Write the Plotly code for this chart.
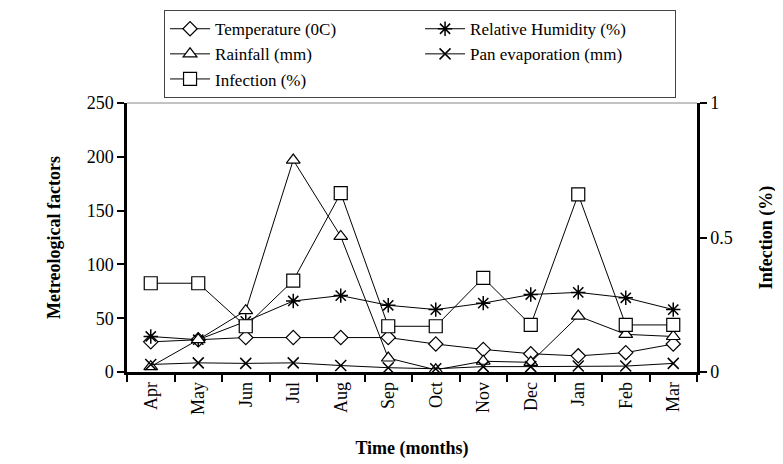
import plotly.graph_objects as go

months = ["Apr", "May", "Jun", "Jul", "Aug", "Sep", "Oct", "Nov", "Dec", "Jan", "Feb", "Mar"]
temperature = [28, 30, 32, 32, 32, 32, 26, 21, 17, 15, 18, 26]
rainfall = [5, 30, 57, 197, 126, 13, 2, 10, 9, 52, 35, 33]
humidity = [33, 30, 47, 66, 71, 62, 58, 64, 72, 74, 69, 58]
pan_evap = [7, 8.5, 8, 8.5, 6, 4, 3, 5, 5, 5.5, 5.5, 8]
infection = [0.33, 0.33, 0.17, 0.34, 0.665, 0.17, 0.17, 0.35, 0.175, 0.66, 0.175, 0.175]

FONT = "Liberation Serif, Times New Roman, Times, serif"
line = dict(color="black", width=1)

def mk(size, width=1.2):
    return dict(color="white", size=size, line=dict(color="black", width=width))

fig = go.Figure()
fig.add_trace(go.Scatter(x=months, y=temperature, name="Temperature (0C)", mode="lines+markers",
                         line=line, marker=dict(symbol="diamond", **mk(11)), legendrank=1, cliponaxis=False))
fig.add_trace(go.Scatter(x=months, y=humidity, name="Relative Humidity (%)", mode="lines+markers",
                         line=line, marker=dict(symbol="asterisk-open", color="black", size=12,
                                                line=dict(color="black", width=1.5)), legendrank=2, cliponaxis=False))
fig.add_trace(go.Scatter(x=months, y=rainfall, name="Rainfall (mm)", mode="lines+markers",
                         line=line, marker=dict(symbol="triangle-up", **mk(12)), legendrank=3, cliponaxis=False))
fig.add_trace(go.Scatter(x=months, y=pan_evap, name="Pan evaporation (mm)", mode="lines+markers",
                         line=line, marker=dict(symbol="x-thin-open", color="black", size=11,
                                                line=dict(color="black", width=1.5)), legendrank=4, cliponaxis=False))
fig.add_trace(go.Scatter(x=months, y=infection, name="Infection (%)", mode="lines+markers", yaxis="y2",
                         line=line, marker=dict(symbol="square", **mk(13)), legendrank=5, cliponaxis=False))

axis_common = dict(showgrid=False, zeroline=False, showline=True, linecolor="black", linewidth=2.5,
                   ticks="outside", tickcolor="black", tickwidth=2, ticklen=7, automargin=False,
                   tickfont=dict(family=FONT, size=18, color="black"))

fig.update_layout(
    width=783, height=464,
    margin=dict(l=119, r=94, t=95, b=100, autoexpand=False),
    paper_bgcolor="white", plot_bgcolor="white",
    font=dict(family=FONT, color="black"),
    showlegend=True,
    legend=dict(orientation="h", x=0.065, xanchor="left", y=1.345, yanchor="top",
                bordercolor="#444", borderwidth=1, bgcolor="white",
                font=dict(family=FONT, size=17, color="black"),
                entrywidth=200, entrywidthmode="pixels", itemwidth=40, tracegroupgap=0),
    xaxis=dict(**axis_common, range=[-0.5, 11.5], tickangle=-90, tickson="boundaries",
               title=dict(text="<b>Time (months)</b>", font=dict(family=FONT, size=18), standoff=28)),
    yaxis=dict(**axis_common, range=[0, 250], tickvals=[0, 50, 100, 150, 200, 250],
               title=dict(text="<b>Metreological factors</b>", font=dict(family=FONT, size=18), standoff=22)),
    yaxis2=dict(**axis_common, range=[0, 1], tickvals=[0, 0.5, 1], ticktext=["0", "0.5", "1"],
                overlaying="y", side="right", anchor="x",
                title=dict(text="<b>Infection (%)</b>", font=dict(family=FONT, size=18), standoff=28)),
    shapes=[dict(type="line", xref="paper", yref="paper", x0=0, x1=1, y0=1, y1=1,
                 line=dict(color="#888", width=1))],
)

fig.write_html("out.html")
